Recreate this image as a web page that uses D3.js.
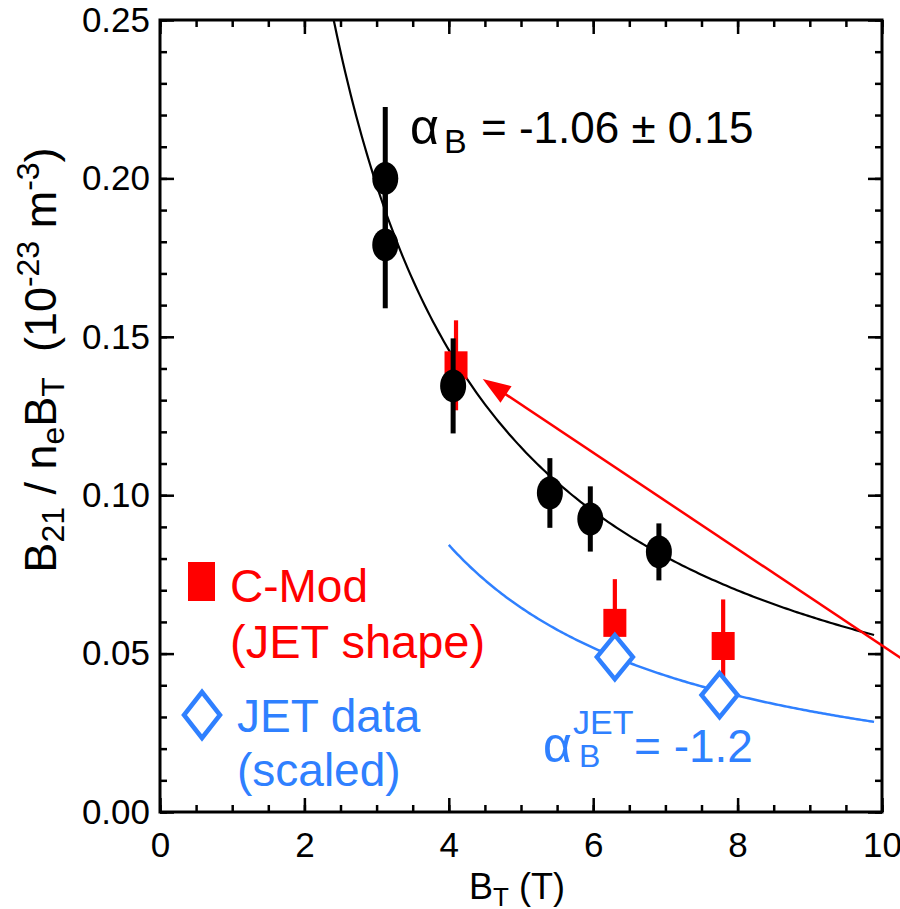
<!DOCTYPE html>
<html>
<head>
<meta charset="utf-8">
<script src="https://cdn.jsdelivr.net/npm/d3@7"></script>
<style>
  html, body { margin: 0; padding: 0; background: #fff; }
  svg { display: block; }
  text { font-family: "Liberation Sans", Arial, Helvetica, sans-serif; }
</style>
</head>
<body>
<svg id="chart" width="900" height="909"></svg>
<script>
// ---------------- data ----------------
// C-Mod data (black circles)
const cmodBT  = [3.12, 3.12, 4.06, 5.40, 5.96, 6.91];
const cmodVal = [0.200, 0.179, 0.1345, 0.1007, 0.0925, 0.0821];
const cmodErr = [0.0225, 0.020, 0.015, 0.011, 0.0103, 0.009];
// C-Mod with JET shape (red squares)
const shapeBT  = [4.10, 6.30, 7.80];
const shapeVal = [0.141, 0.0597, 0.0524];
const shapeErr = [0.0142, 0.0138, 0.0147];
// JET data scaled (blue diamonds)
const jetBT  = [6.30, 7.75];
const jetVal = [0.0489, 0.0369];
// power-law fits  y = C * BT^alpha
const fitBlack = { C: 0.634, alpha: -1.06, from: 2.3, to: 9.89 };
const fitBlue  = { C: 0.445, alpha: -1.2,  from: 4.0, to: 9.89 };
// arrow (data coords): tail -> tip
const arrowTail = [10.3, 0.0480];
const arrowTip  = [4.47, 0.1367];
// axes ticks
const xMajor = [0, 2, 4, 6, 8, 10];
const yMajor = [0.00, 0.05, 0.10, 0.15, 0.20, 0.25];
const xMinorStep = 0.5;
const yMinorStep = 0.01;

// ---------------- layout ----------------
const svg = d3.select("#chart");
const L = 160, R = 882, T = 20, B = 812;
const x = d3.scaleLinear().domain([0, 10]).range([L, R]);
const y = d3.scaleLinear().domain([0, 0.25]).range([B, T]);

const RED = "#ff0000", BLUE = "#2f80ff";
const GREEK = "'DejaVu Sans', 'Liberation Sans', sans-serif";

svg.append("defs").append("clipPath").attr("id", "plotclip")
  .append("rect").attr("x", L).attr("y", T).attr("width", R - L).attr("height", B - T);

// ---------------- axes ----------------
const xMinor = d3.range(0, 10 + 1e-9, xMinorStep);
const yMinor = d3.range(0, 0.25 + 1e-9, yMinorStep);
const tickFont = 35;

function styleAxis(g) {
  g.select(".domain").remove();
  g.selectAll(".tick line").attr("stroke", "#000").attr("stroke-width", 2.5);
  g.selectAll(".tick text").attr("font-size", tickFont).attr("fill", "#000")
    .attr("font-family", "'Liberation Sans', Arial, sans-serif");
}
// bottom
svg.append("g").attr("transform", `translate(0,${B})`)
  .call(d3.axisBottom(x).tickValues(xMinor).tickSize(-7).tickFormat(""))
  .call(styleAxis);
svg.append("g").attr("transform", `translate(0,${B})`)
  .call(d3.axisBottom(x).tickValues(xMajor).tickSize(-14).tickPadding(20).tickFormat(d3.format("d")))
  .call(styleAxis);
// top
svg.append("g").attr("transform", `translate(0,${T})`)
  .call(d3.axisTop(x).tickValues(xMinor).tickSize(-7).tickFormat(""))
  .call(styleAxis);
svg.append("g").attr("transform", `translate(0,${T})`)
  .call(d3.axisTop(x).tickValues(xMajor).tickSize(-14).tickFormat(""))
  .call(styleAxis);
// left
svg.append("g").attr("transform", `translate(${L},0)`)
  .call(d3.axisLeft(y).tickValues(yMinor).tickSize(-7).tickFormat(""))
  .call(styleAxis);
svg.append("g").attr("transform", `translate(${L},0)`)
  .call(d3.axisLeft(y).tickValues(yMajor).tickSize(-14).tickPadding(10).tickFormat(d3.format(".2f")))
  .call(styleAxis);
// right
svg.append("g").attr("transform", `translate(${R},0)`)
  .call(d3.axisRight(y).tickValues(yMinor).tickSize(-7).tickFormat(""))
  .call(styleAxis);
svg.append("g").attr("transform", `translate(${R},0)`)
  .call(d3.axisRight(y).tickValues(yMajor).tickSize(-14).tickFormat(""))
  .call(styleAxis);
// frame
svg.append("rect").attr("x", L).attr("y", T).attr("width", R - L).attr("height", B - T)
  .attr("fill", "none").attr("stroke", "#000").attr("stroke-width", 3);

// ---------------- fit curves ----------------
function fitPoints(f) {
  const n = 200;
  return d3.range(n + 1).map(i => {
    const bt = f.from + (f.to - f.from) * i / n;
    return [bt, f.C * Math.pow(bt, f.alpha)];
  });
}
const line = d3.line().x(d => x(d[0])).y(d => y(d[1]));

svg.append("path").attr("d", line(fitPoints(fitBlue)))
  .attr("fill", "none").attr("stroke", BLUE).attr("stroke-width", 2.5);

svg.append("path").attr("d", line(fitPoints(fitBlack)))
  .attr("clip-path", "url(#plotclip)")
  .attr("fill", "none").attr("stroke", "#000").attr("stroke-width", 2.2);

// ---------------- arrow ----------------
{
  const x0 = x(arrowTail[0]), y0 = y(arrowTail[1]);
  const x1 = x(arrowTip[0]),  y1 = y(arrowTip[1]);
  const dx = x0 - x1, dy = y0 - y1, len = Math.hypot(dx, dy);
  const ux = dx / len, uy = dy / len;
  const headL = 28, headW = 10;
  const bx = x1 + ux * headL, by = y1 + uy * headL;
  svg.append("line").attr("x1", x0).attr("y1", y0).attr("x2", bx - ux * 2).attr("y2", by - uy * 2)
    .attr("stroke", RED).attr("stroke-width", 2.5);
  svg.append("path")
    .attr("d", `M${x1},${y1}L${bx - uy * headW},${by + ux * headW}L${bx + uy * headW},${by - ux * headW}Z`)
    .attr("fill", RED);
}

// ---------------- red squares (C-Mod, JET shape) ----------------
const shape = shapeBT.map((b, i) => ({ b, v: shapeVal[i], e: shapeErr[i] }));
svg.append("g").selectAll("line").data(shape).join("line")
  .attr("x1", d => x(d.b)).attr("x2", d => x(d.b))
  .attr("y1", d => y(d.v - d.e)).attr("y2", d => y(d.v + d.e))
  .attr("stroke", RED).attr("stroke-width", 4.2);
svg.append("g").selectAll("rect").data(shape).join("rect")
  .attr("x", d => x(d.b) - 11.5).attr("y", d => y(d.v) - 14)
  .attr("width", 23).attr("height", 28).attr("fill", RED);

// ---------------- black circles ----------------
const cmod = cmodBT.map((b, i) => ({ b, v: cmodVal[i], e: cmodErr[i] }));
svg.append("g").selectAll("line").data(cmod).join("line")
  .attr("x1", d => x(d.b)).attr("x2", d => x(d.b))
  .attr("y1", d => y(d.v - d.e)).attr("y2", d => y(d.v + d.e))
  .attr("stroke", "#000").attr("stroke-width", 5);
svg.append("g").selectAll("ellipse").data(cmod).join("ellipse")
  .attr("cx", d => x(d.b)).attr("cy", d => y(d.v))
  .attr("rx", 13).attr("ry", 16.5).attr("fill", "#000");

// ---------------- blue diamonds ----------------
const diamond = (cx, cy, hw, hh) => `M${cx},${cy - hh}L${cx + hw},${cy}L${cx},${cy + hh}L${cx - hw},${cy}Z`;
const jet = jetBT.map((b, i) => ({ b, v: jetVal[i] }));
svg.append("g").selectAll("path").data(jet).join("path")
  .attr("d", d => diamond(x(d.b), y(d.v), 18, 22))
  .attr("fill", "#fff").attr("stroke", BLUE).attr("stroke-width", 4.5);

// ---------------- annotations ----------------
// alpha_B black
{
  const g = svg.append("g");
  g.append("text").attr("x", 410).attr("y", 144).attr("font-size", 50)
    .attr("font-family", GREEK).text("α");
  g.append("text").attr("x", 444).attr("y", 153).attr("font-size", 34).text("B");
  g.append("text").attr("x", 481).attr("y", 143).attr("font-size", 44).text("= -1.06 ± 0.15");
}
// alpha_B JET blue
{
  const g = svg.append("g").attr("fill", BLUE);
  g.append("text").attr("x", 543).attr("y", 762).attr("font-size", 50)
    .attr("font-family", GREEK).text("α");
  g.append("text").attr("x", 579).attr("y", 767).attr("font-size", 32).text("B");
  g.append("text").attr("x", 573).attr("y", 734).attr("font-size", 34).text("JET");
  g.append("text").attr("x", 634).attr("y", 762).attr("font-size", 46).text("= -1.2");
}

// ---------------- legend ----------------
svg.append("rect").attr("x", 188).attr("y", 562).attr("width", 27).attr("height", 39).attr("fill", RED);
svg.append("text").attr("x", 230).attr("y", 602).attr("font-size", 46).attr("fill", RED).text("C-Mod");
svg.append("text").attr("x", 230).attr("y", 658).attr("font-size", 47).attr("fill", RED).text("(JET shape)");
svg.append("path").attr("d", diamond(202, 715, 18, 23))
  .attr("fill", "#fff").attr("stroke", BLUE).attr("stroke-width", 4.5);
svg.append("text").attr("x", 237).attr("y", 732).attr("font-size", 46).attr("fill", BLUE).text("JET data");
svg.append("text").attr("x", 237).attr("y", 786).attr("font-size", 46).attr("fill", BLUE).text("(scaled)");

// ---------------- axis titles ----------------
{
  const t = svg.append("text").attr("text-anchor", "middle").attr("font-size", 36)
    .attr("transform", `translate(${517},${899})`);
  t.append("tspan").text("B");
  t.append("tspan").attr("font-size", 26).attr("dy", 7).text("T");
  t.append("tspan").attr("dy", -7).text(" (T)");
}
{
  const t = svg.append("text").attr("text-anchor", "middle").attr("font-size", 45)
    .attr("transform", `translate(${56},${360}) rotate(-90)`);
  t.append("tspan").text("B");
  t.append("tspan").attr("font-size", 32).attr("dy", 8).text("21");
  t.append("tspan").attr("dy", -8).text(" / n");
  t.append("tspan").attr("font-size", 32).attr("dy", 8).text("e");
  t.append("tspan").attr("dy", -8).text("B");
  t.append("tspan").attr("font-size", 32).attr("dy", 8).text("T");
  t.append("tspan").attr("dy", -8).text("\u00a0\u00a0(10");
  t.append("tspan").attr("font-size", 32).attr("dy", -17).text("-23");
  t.append("tspan").attr("dy", 17).text(" m");
  t.append("tspan").attr("font-size", 32).attr("dy", -17).text("-3");
  t.append("tspan").attr("dy", 17).text(")");
}
</script>
</body>
</html>
